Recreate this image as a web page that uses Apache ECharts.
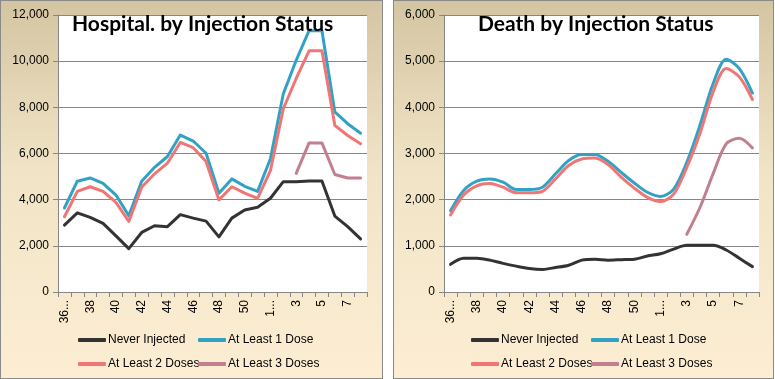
<!DOCTYPE html>
<html>
<head>
<meta charset="utf-8">
<script src="https://cdn.jsdelivr.net/npm/echarts@6/dist/echarts.min.js"></script>
<style>
  html, body { margin: 0; padding: 0; background: #ffffff; }
  .box { position: absolute; top: 0; box-sizing: border-box; border: 1px solid #8a8a8a; height: 379px; }
  #left { left: 0; width: 383px; }
  #right { left: 393px; width: 381px; }
  .chart { width: 100%; height: 100%; }
</style>
</head>
<body>
<div class="box" id="left"><div class="chart" id="c1"></div></div>
<div class="box" id="right"><div class="chart" id="c2"></div></div>
<script>
// Categories: ISO weeks 36-51 of 2021, then weeks 1-8 of 2022
const categories = ['36-2021','37','38','39','40','41','42','43','44','45','46','47','48','49','50','51',
                    '1-2022','2','3','4','5','6','7','8'];

const seriesNames = ['Never Injected', 'At Least 1 Dose', 'At Least 2 Doses', 'At Least 3 Doses'];

// Hospitalisations
const hospNever = [2900,3430,3230,2970,2430,1880,2580,2870,2830,3350,3200,3070,2390,3200,3550,3670,4060,4780,4780,4810,4810,3290,2830,2300];
const hospDose1 = [3640,4800,4940,4710,4200,3300,4800,5400,5870,6800,6540,6010,4280,4900,4580,4360,5770,8590,10040,11320,11320,7800,7290,6880];
const hospDose2 = [3260,4360,4560,4360,3880,3060,4540,5120,5580,6480,6250,5650,3990,4560,4280,4060,5260,7940,9250,10450,10450,7220,6780,6420];
const hospDose3 = [null,null,null,null,null,null,null,null,null,null,null,null,null,null,null,null,null,null,5140,6460,6460,5090,4940,4940];

// Deaths
const deathNever = [600,730,730,690,620,560,510,490,530,580,690,710,690,700,710,780,830,930,1010,1010,1010,910,730,550];
const deathDose1 = [1760,2200,2400,2450,2380,2220,2220,2270,2560,2850,2980,2980,2830,2590,2360,2160,2070,2230,2810,3610,4510,5040,4840,4310];
const deathDose2 = [1670,2100,2300,2350,2270,2150,2150,2180,2450,2740,2880,2900,2760,2490,2250,2050,1960,2120,2700,3430,4330,4840,4660,4170];
const deathDose3 = [null,null,null,null,null,null,null,null,null,null,null,null,null,null,null,null,null,null,1250,1830,2560,3210,3330,3120];

const colors = ['#333333', '#32a2c4', '#f07676', '#c27f8d'];
const gridColor = '#868686';
const txtFont = 'Liberation Sans';

function bg() {
  return {
    type: 'linear', x: 0, y: 0, x2: 0, y2: 1,
    colorStops: [
      { offset: 0, color: '#d4c5a2' },
      { offset: 0.45, color: '#f1e4c6' },
      { offset: 1, color: '#fdeed3' }
    ]
  };
}

function makeOption(cfg) {
  const legendPos = [
    { left: 72, top: 328 },
    { left: 192, top: 328 },
    { left: 72, top: 352 },
    { left: 192, top: 352 }
  ];
  return {
    animation: false,
    backgroundColor: bg(),
    title: {
      text: cfg.title,
      left: cfg.titleLeft,
      top: 8,
      textStyle: { fontFamily: 'Lato', fontWeight: 'bold', fontSize: 21, color: '#000' }
    },
    grid: {
      left: cfg.gridLeft, top: 14, width: cfg.gridWidth, height: 277,
      show: true, backgroundColor: '#ffffff', borderWidth: 0
    },
    legend: seriesNames.map((n, i) => ({
      data: [n],
      left: legendPos[i].left,
      top: legendPos[i].top,
      icon: 'roundRect',
      itemWidth: 28,
      itemHeight: 4,
      textStyle: { fontFamily: txtFont, fontSize: 12, color: '#000', padding: [0, 0, 0, -3] },
      selectedMode: false
    })),
    xAxis: {
      type: 'category',
      data: categories,
      boundaryGap: true,
      axisLine: { lineStyle: { color: gridColor } },
      axisTick: { show: true, interval: 0, length: 5, lineStyle: { color: gridColor } },
      axisLabel: {
        interval: 1,
        rotate: 90,
        margin: 8,
        fontFamily: txtFont,
        fontSize: 12,
        color: '#000',
        formatter: v => v.indexOf('-') >= 0 ? v.split('-')[0] + '...' : v
      },
      splitLine: { show: false }
    },
    yAxis: {
      type: 'value',
      min: 0,
      max: cfg.yMax,
      interval: cfg.yInterval,
      axisLine: { show: true, lineStyle: { color: gridColor } },
      axisTick: { show: true, length: 5, lineStyle: { color: gridColor } },
      axisLabel: {
        margin: 9,
        fontFamily: txtFont,
        fontSize: 12,
        color: '#000',
        formatter: v => v.toLocaleString('en-US')
      },
      splitLine: { lineStyle: { color: gridColor, width: 1 } }
    },
    series: cfg.data.map((d, i) => ({
      name: seriesNames[i],
      type: 'line',
      data: d,
      smooth: cfg.smooth,
      symbol: 'none',
      connectNulls: false,
      lineStyle: { width: 3, color: colors[i], cap: 'round', join: 'round' },
      itemStyle: { color: colors[i] }
    }))
  };
}

const c1 = echarts.init(document.getElementById('c1'));
c1.setOption(makeOption({
  title: 'Hospital. by Injection Status',
  titleLeft: 66,
  gridLeft: 57,
  gridWidth: 309,
  yMax: 12000,
  yInterval: 2000,
  smooth: false,
  data: [hospNever, hospDose1, hospDose2, hospDose3]
}));

const c2 = echarts.init(document.getElementById('c2'));
c2.setOption(makeOption({
  title: 'Death by Injection Status',
  titleLeft: 79,
  gridLeft: 50,
  gridWidth: 315,
  yMax: 6000,
  yInterval: 1000,
  smooth: 0.3,
  data: [deathNever, deathDose1, deathDose2, deathDose3]
}));
</script>
</body>
</html>
